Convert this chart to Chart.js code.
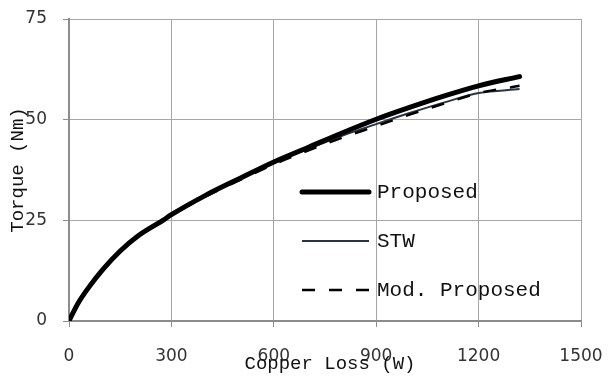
<!DOCTYPE html>
<html>
<head>
<meta charset="utf-8">
<script src="https://cdn.jsdelivr.net/npm/chart.js@4.4.1/dist/chart.umd.min.js"></script>
<style>
  html, body { margin: 0; padding: 0; background: #fff; }
  #wrap { width: 608px; height: 376px; position: relative; }
</style>
</head>
<body>
<div id="wrap"><canvas id="myChart" width="608" height="376"></canvas></div>
<script>
// copper loss (W) and torque (Nm)
const copperLoss = [0, 15, 30, 60, 100, 150, 200, 275, 300, 400, 500, 600, 700, 800, 900, 1000, 1100, 1200, 1320];
const torqueProposed = [0, 2.6, 4.9, 8.6, 12.9, 17.4, 21.0, 25.0, 26.4, 31.2, 35.4, 39.5, 43.1, 46.7, 50.1, 53.1, 55.9, 58.4, 60.7];
const torqueSTW = [0, 2.6, 4.9, 8.6, 12.9, 17.4, 21.0, 25.0, 26.4, 31.1, 35.2, 39.2, 42.7, 46.0, 48.9, 51.7, 54.3, 56.6, 57.6];
const torqueModProposed = [0, 2.6, 4.9, 8.6, 12.8, 17.3, 20.9, 24.9, 26.3, 30.9, 35.0, 38.9, 42.3, 45.5, 48.4, 51.3, 54.0, 56.6, 58.4];

const seriesNames = ["Proposed", "STW", "Mod. Proposed"];
const xTicks = [0, 300, 600, 900, 1200, 1500];
const yTicks = [0, 25, 50, 75];

const toPoints = ys => copperLoss.map((x, i) => ({ x: x, y: ys[i] }));

// legend + axis titles drawn inside the plot like the original
const overlay = {
    id: "overlay",
    afterDraw(chart) {
        const ctx = chart.ctx;
        const area = chart.chartArea;
        ctx.save();
        ctx.fillStyle = "#111";
        ctx.textBaseline = "middle";
        ctx.textAlign = "center";

        // axis titles
        ctx.font = "19px 'Liberation Mono', monospace";
        ctx.fillText("Copper Loss (W)", (area.left + area.right) / 2 + 5, 364);
        ctx.translate(18, (area.top + area.bottom) / 2);
        ctx.rotate(-Math.PI / 2);
        ctx.fillText("Torque (Nm)", 0, 0);
        ctx.restore();

        // legend
        const rows = [192, 241, 290];
        chart.data.datasets.forEach((ds, i) => {
            const y = rows[i];
            ctx.save();
            ctx.beginPath();
            ctx.strokeStyle = ds.borderColor;
            ctx.lineWidth = ds.borderWidth;
            ctx.lineCap = i === 0 ? "round" : "butt";
            ctx.setLineDash(ds.borderDash || []);
            ctx.moveTo(302, y);
            ctx.lineTo(369, y);
            ctx.stroke();
            ctx.restore();

            ctx.save();
            ctx.fillStyle = "#111";
            ctx.font = "21px 'Liberation Mono', monospace";
            ctx.textAlign = "left";
            ctx.textBaseline = "middle";
            ctx.fillText(ds.label, 377, y);
            ctx.restore();
        });
    }
};

const ctx = document.getElementById("myChart").getContext("2d");

new Chart(ctx, {
    type: "line",
    data: {
        datasets: [
            {
                label: seriesNames[0],
                data: toPoints(torqueProposed),
                borderColor: "#000",
                borderWidth: 5,
                borderCapStyle: "round",
                pointRadius: 0,
                cubicInterpolationMode: "monotone",
                order: 1
            },
            {
                label: seriesNames[1],
                data: toPoints(torqueSTW),
                borderColor: "#2b3440",
                borderWidth: 2,
                pointRadius: 0,
                cubicInterpolationMode: "monotone",
                order: 2
            },
            {
                label: seriesNames[2],
                data: toPoints(torqueModProposed),
                borderColor: "#000",
                borderWidth: 2.5,
                borderDash: [13, 14],
                pointRadius: 0,
                cubicInterpolationMode: "monotone",
                order: 0
            }
        ]
    },
    options: {
        responsive: false,
        animation: false,
        layout: { padding: { top: 19, right: 27, left: 0, bottom: 0 } },
        plugins: {
            legend: { display: false },
            tooltip: { enabled: false }
        },
        scales: {
            x: {
                type: "linear",
                min: 0,
                max: 1500,
                afterBuildTicks: s => { s.ticks = xTicks.map(v => ({ value: v })); },
                afterFit: s => { s.height = 55; s.paddingLeft = 0; s.paddingRight = 0; },
                grid: { color: "#a6a6a6", lineWidth: 1, tickLength: 6, tickColor: "#8c8c8c" },
                border: { color: "#8c8c8c", width: 2 },
                ticks: {
                    color: "#333",
                    padding: 19,
                    maxRotation: 0,
                    callback: v => String(v),
                    font: { family: "'DejaVu Sans'", size: 17 }
                }
            },
            y: {
                min: 0,
                max: 75,
                afterBuildTicks: s => { s.ticks = yTicks.map(v => ({ value: v })); },
                afterFit: s => { s.width = 69; s.paddingTop = 0; s.paddingBottom = 0; },
                grid: { color: "#a6a6a6", lineWidth: 1, tickLength: 6, tickColor: "#8c8c8c" },
                border: { color: "#8c8c8c", width: 2 },
                ticks: {
                    color: "#333",
                    padding: 16,
                    callback: v => String(v),
                    font: { family: "'DejaVu Sans'", size: 17 }
                }
            }
        }
    },
    plugins: [overlay]
});
</script>
</body>
</html>
